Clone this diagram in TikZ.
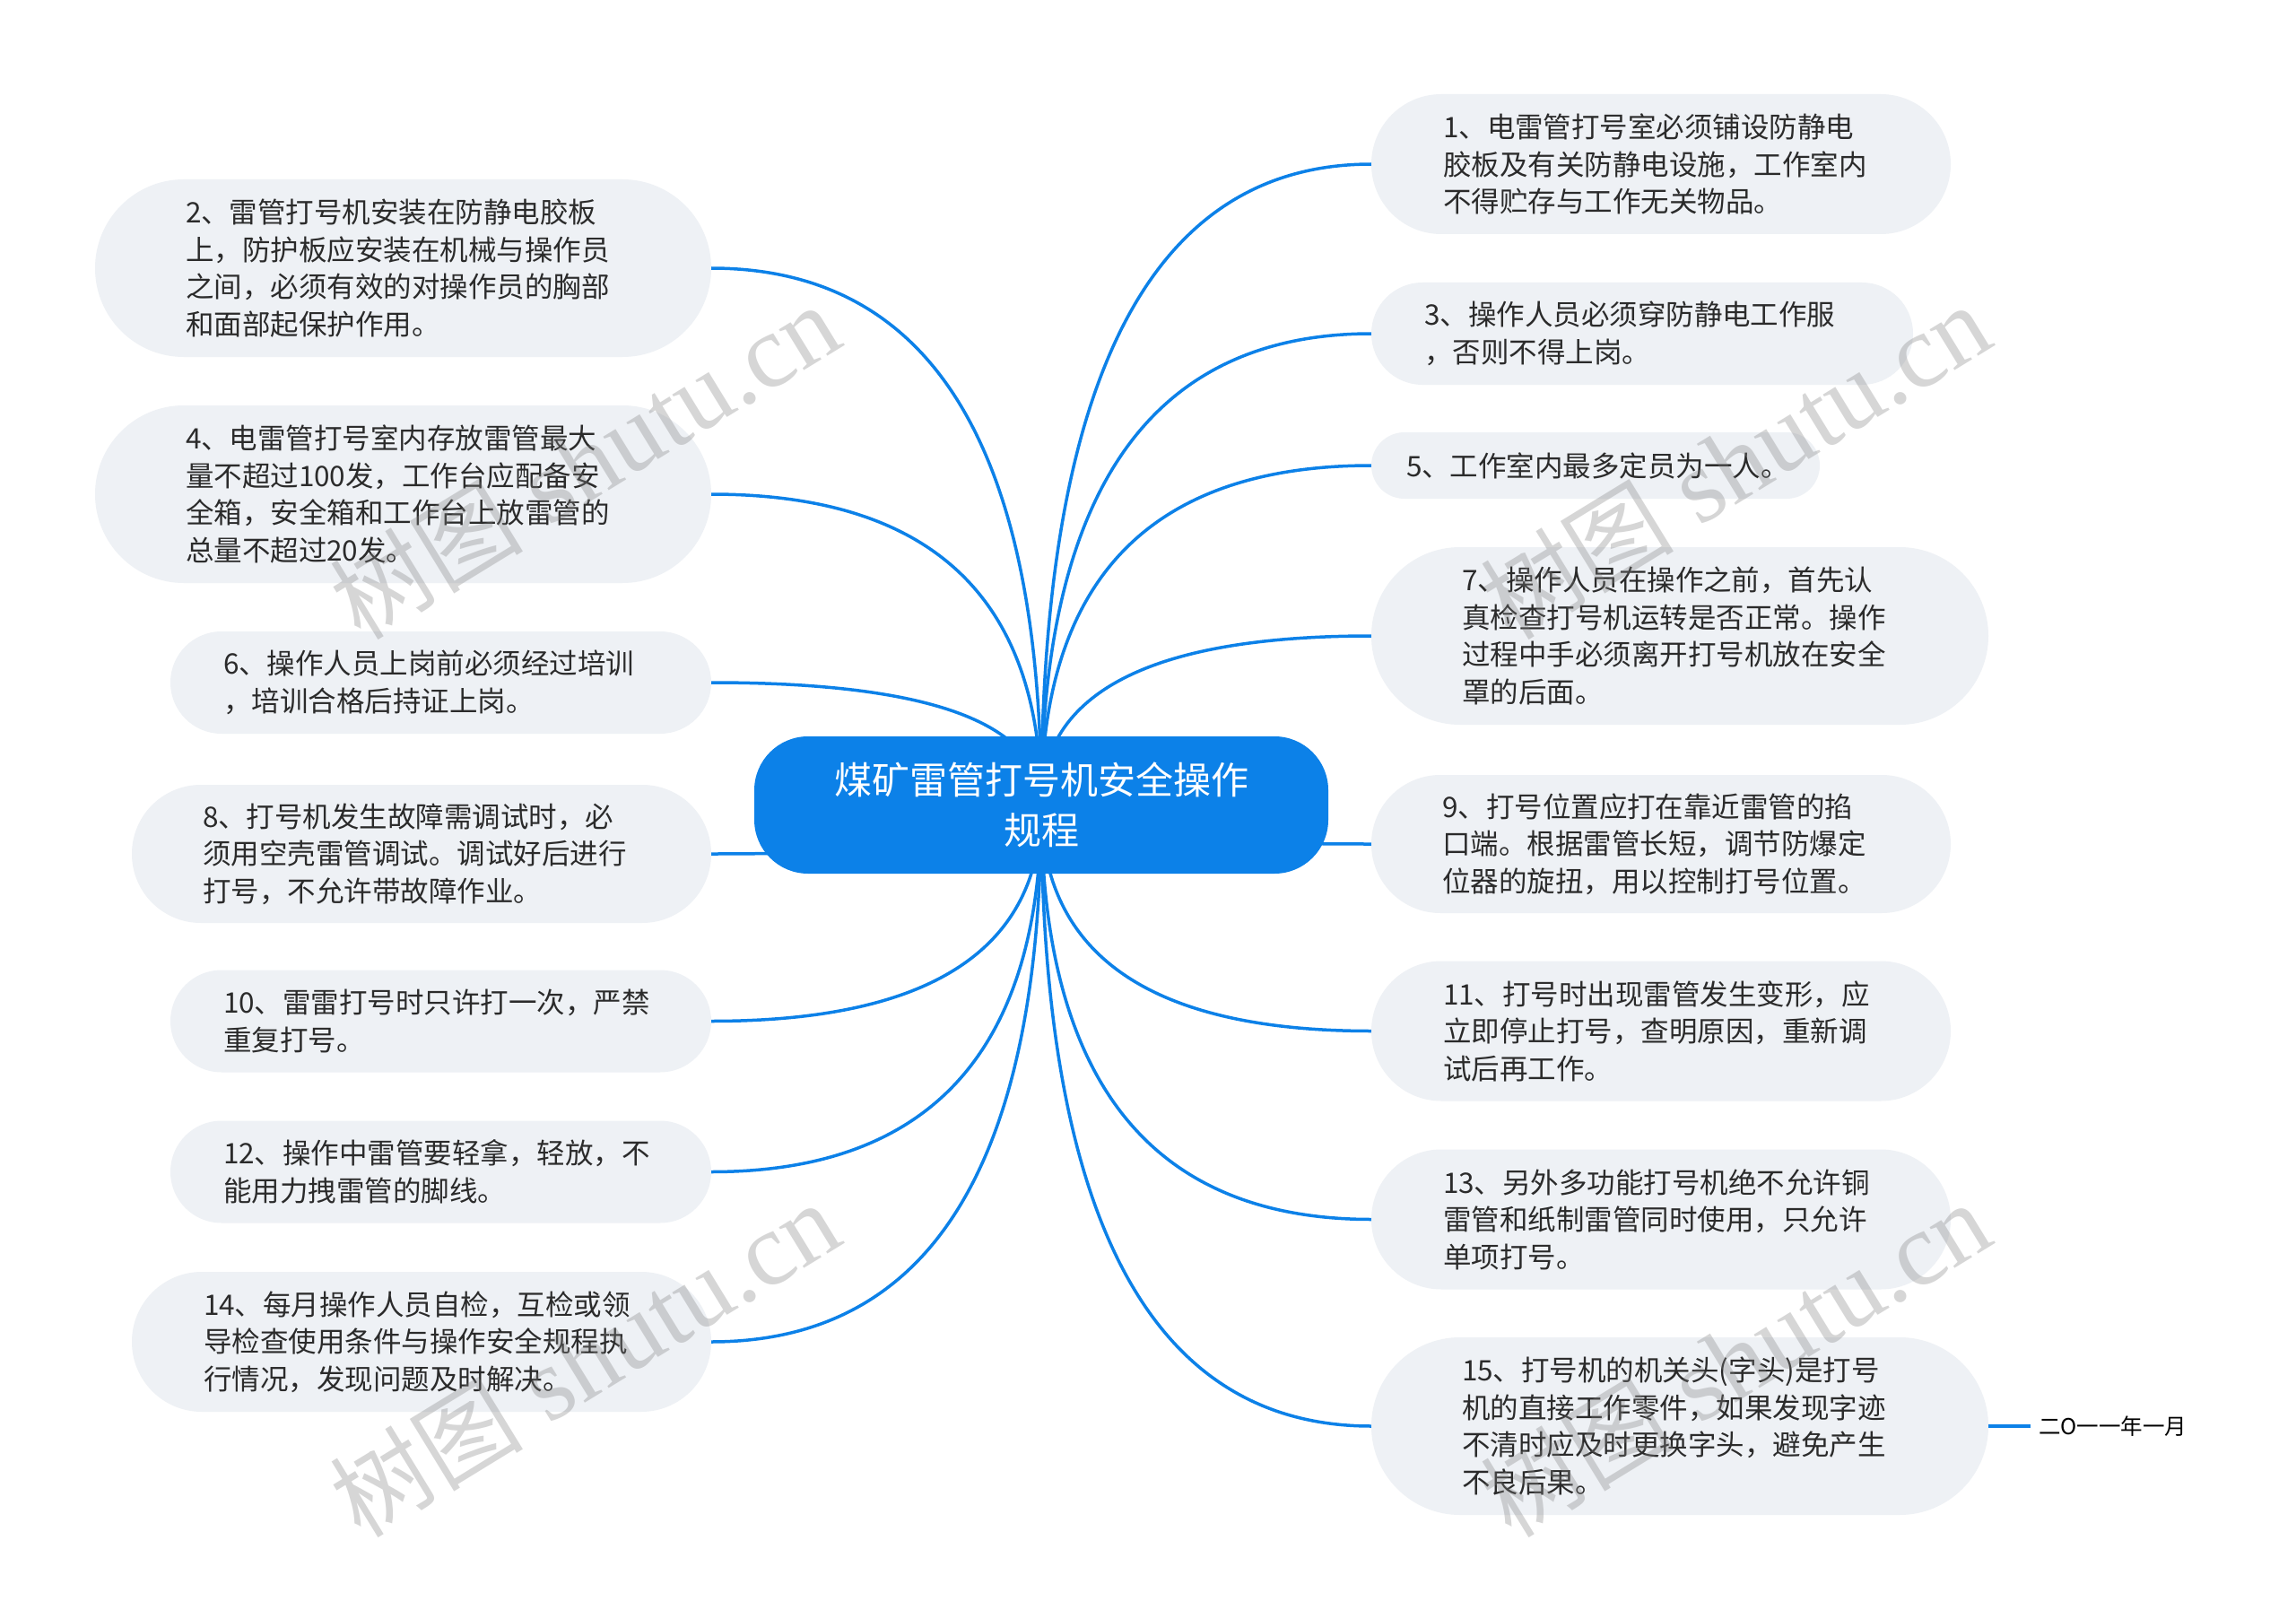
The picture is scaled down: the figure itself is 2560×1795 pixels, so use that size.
\documentclass[tikz,border=0pt]{standalone}
\usepackage{fontspec}
\newfontfamily\cjk{Noto Sans CJK SC}
\newfontfamily\wmserif{Liberation Serif}
\usetikzlibrary{calc,backgrounds}
\definecolor{mblue}{HTML}{0C81E8}
\definecolor{leaffill}{HTML}{EEF1F5}
\definecolor{leaftext}{HTML}{2B2B2B}
\tikzset{
  leafbox/.style={fill=leaffill, text=leaftext, font=\cjk\fontsize{31.5}{41.5}\selectfont,
    align=left, inner ysep=0pt, outer sep=0pt},
  rootbox/.style={fill=mblue, text=white, font=\cjk\fontsize{42}{56}\selectfont,
    align=center, minimum width=640pt, minimum height=153pt, rounded corners=60pt,
    inner sep=0pt, outer sep=0pt},
  link/.style={draw=mblue, line width=3.5pt},
  datebox/.style={text=black, font=\cjk\fontsize{24.5}{30}\selectfont, inner xsep=9pt, inner ysep=0pt},
  wmark/.style={text=gray, opacity=0.32, inner sep=0pt, rotate=31.5},
}
\newcommand\leaf[6]{%
  \pgfmathsetmacro\lfR{#5/2}%
  \pgfmathsetmacro\lfX{#5/2+2}%
  \pgfmathsetmacro\lfT{#4-#5-4}%
  \node[leafbox, minimum width=#4pt, minimum height=#5pt, rounded corners=\lfR pt,
        inner xsep=\lfX pt, text width=\lfT pt] (#1) at (#2,#3) {#6};%
}
\newcommand\linkto[1]{%
  \draw[link] (root.center) .. controls ($(root.center)!0.6667!(root.center |- #1)$)
    and ($(#1)!0.6667!(root.center |- #1)$) .. (#1);%
}
\newcommand\wmtext{{\cjk\fontsize{108}{114}\selectfont 树图}{\wmserif\fontsize{116}{116}\selectfont\ shutu.cn}}
\begin{document}
\begin{tikzpicture}[x=1pt,y=-1pt]
\useasboundingbox (0,0) rectangle (2560,1795);

\node[rootbox] (root) at (1161,897.5) {煤矿雷管打号机安全操作\\规程};

\leaf{n1}{1852}{183}{646}{156}{1、电雷管打号室必须铺设防静电\\胶板及有关防静电设施，工作室内\\不得贮存与工作无关物品。}
\leaf{n2}{449.5}{299}{687}{198}{2、雷管打号机安装在防静电胶板\\上，防护板应安装在机械与操作员\\之间，必须有效的对操作员的胸部\\和面部起保护作用。}
\leaf{n3}{1831}{372}{604}{114}{3、操作人员必须穿防静电工作服\\，否则不得上岗。}
\leaf{n4}{449.5}{551}{687}{198}{4、电雷管打号室内存放雷管最大\\量不超过100发，工作台应配备安\\全箱，安全箱和工作台上放雷管的\\总量不超过20发。}
\leaf{n5}{1779}{519}{500}{74}{5、工作室内最多定员为一人。}
\leaf{n6}{491.5}{761}{603}{114}{6、操作人员上岗前必须经过培训\\，培训合格后持证上岗。}
\leaf{n7}{1873}{709}{688}{198}{7、操作人员在操作之前，首先认\\真检查打号机运转是否正常。操作\\过程中手必须离开打号机放在安全\\罩的后面。}
\leaf{n8}{470}{952}{646}{154}{8、打号机发生故障需调试时，必\\须用空壳雷管调试。调试好后进行\\打号，不允许带故障作业。}
\leaf{n9}{1852}{941}{646}{154}{9、打号位置应打在靠近雷管的掐\\口端。根据雷管长短，调节防爆定\\位器的旋扭，用以控制打号位置。}
\leaf{n10}{491.5}{1138.5}{603}{114}{10、雷雷打号时只许打一次，严禁\\重复打号。}
\leaf{n11}{1852}{1149.5}{646}{156}{11、打号时出现雷管发生变形，应\\立即停止打号，查明原因，重新调\\试后再工作。}
\leaf{n12}{491.5}{1306.5}{603}{114}{12、操作中雷管要轻拿，轻放，不\\能用力拽雷管的脚线。}
\leaf{n13}{1852}{1359.5}{646}{156}{13、另外多功能打号机绝不允许铜\\雷管和纸制雷管同时使用，只允许\\单项打号。}
\leaf{n14}{470}{1496}{646}{156}{14、每月操作人员自检，互检或领\\导检查使用条件与操作安全规程执\\行情况，发现问题及时解决。}
\leaf{n15}{1873}{1590}{688}{198}{15、打号机的机关头(字头)是打号\\机的直接工作零件，如果发现字迹\\不清时应及时更换字头，避免产生\\不良后果。}

\node[datebox, anchor=west] (date) at (2264,1590) {二O一一年一月};

\begin{pgfonlayer}{background}
  \fill[white] (0,0) rectangle (2560,1795);
  \linkto{n2.east}
  \linkto{n4.east}
  \linkto{n6.east}
  \linkto{n8.east}
  \linkto{n10.east}
  \linkto{n12.east}
  \linkto{n14.east}
  \linkto{n1.west}
  \linkto{n3.west}
  \linkto{n5.west}
  \linkto{n7.west}
  \linkto{n9.west}
  \linkto{n11.west}
  \linkto{n13.west}
  \linkto{n15.west}
\end{pgfonlayer}
\draw[link] (n15.east) -- (date.west);

\node[wmark] (wm1) at (652,515) {\wmtext};
\node[wmark] (wm2) at (1935,515) {\wmtext};
\node[wmark] (wm3) at (652,1516) {\wmtext};
\node[wmark] (wm4) at (1935,1516) {\wmtext};
\end{tikzpicture}
\end{document}
